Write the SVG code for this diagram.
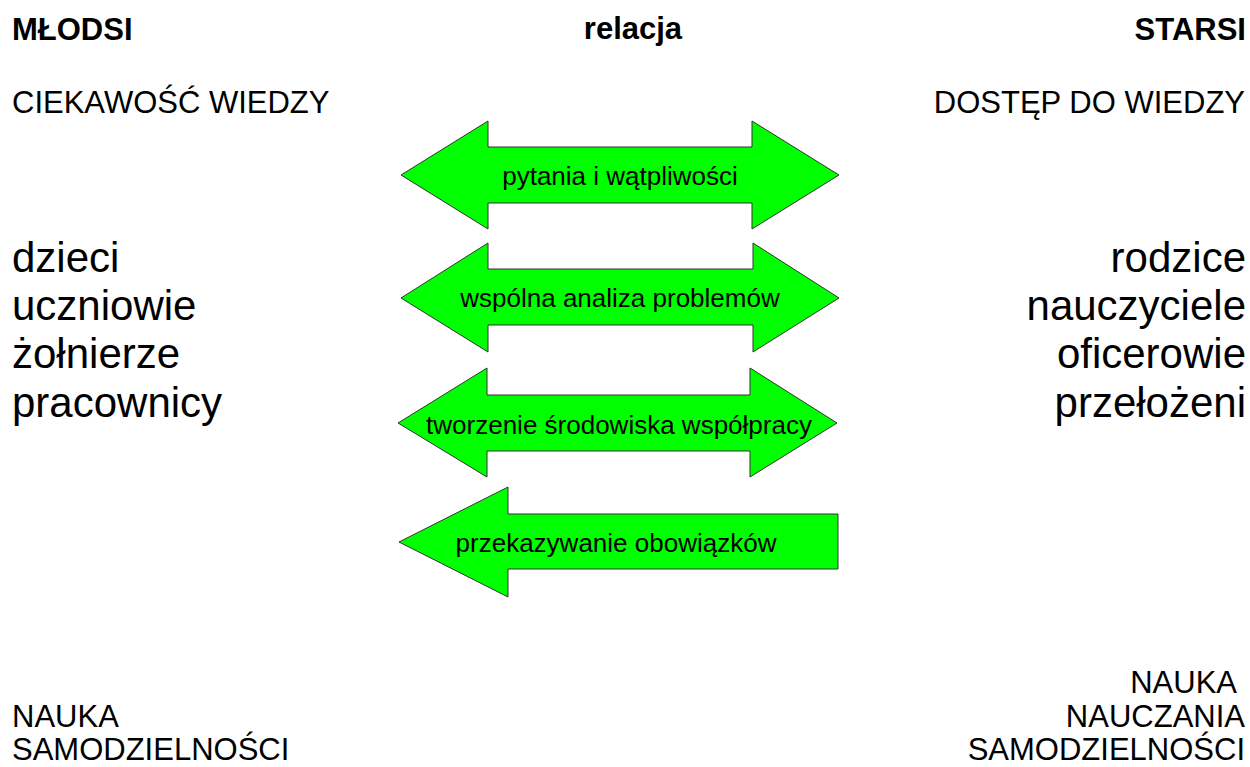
<svg xmlns="http://www.w3.org/2000/svg" width="1250" height="767" viewBox="0 0 1250 767">
  <style>
    text { font-family: "Liberation Sans", Arial, sans-serif; fill: #000; }
    .head { font-size: 31px; font-weight: bold; }
    .cap { font-size: 31px; }
    .big { font-size: 42px; }
    .lbl { font-size: 26px; text-anchor: middle; }
    .end { text-anchor: end; }
    .arrow { fill: #00ff00; stroke: #333333; stroke-width: 1; stroke-linejoin: miter; }
  </style>
  <rect width="1250" height="767" fill="#ffffff"/>

  <!-- column headings -->
  <g id="headings">
    <text class="head" x="12" y="40">MŁODSI</text>
    <text class="head" x="633" y="39" text-anchor="middle">relacja</text>
    <text class="head end" x="1246" y="40">STARSI</text>
  </g>

  <g id="left-column">
    <text class="cap" x="12" y="113">CIEKAWOŚĆ WIEDZY</text>
    <text class="big" x="12" y="272">dzieci</text>
    <text class="big" x="12" y="320">uczniowie</text>
    <text class="big" x="12" y="368">żołnierze</text>
    <text class="big" x="12" y="417">pracownicy</text>
    <text class="cap" x="12" y="727">NAUKA</text>
    <text class="cap" x="12" y="760">SAMODZIELNOŚCI</text>
  </g>

  <g id="right-column">
    <text class="cap end" x="1245" y="113">DOSTĘP DO WIEDZY</text>
    <text class="big end" x="1246" y="272">rodzice</text>
    <text class="big end" x="1246" y="320">nauczyciele</text>
    <text class="big end" x="1246" y="368">oficerowie</text>
    <text class="big end" x="1246" y="417">przełożeni</text>
    <text class="cap end" x="1237" y="693">NAUKA</text>
    <text class="cap end" x="1245" y="727">NAUCZANIA</text>
    <text class="cap end" x="1245" y="760">SAMODZIELNOŚCI</text>
  </g>

  <!-- relation arrows -->
  <g id="connectors">
    <g id="arrow-questions">
      <polygon class="arrow" points="401,175 488,121 488,147 752,147 752,121 839,175 752,229 752,203 488,203 488,229"/>
      <text class="lbl" x="620" y="185">pytania i wątpliwości</text>
    </g>
    <g id="arrow-analysis">
      <polygon class="arrow" points="401,298 488,243 488,269 753,269 753,243 839,298 753,352 753,325 488,325 488,352"/>
      <text class="lbl" x="620" y="307">wspólna analiza problemów</text>
    </g>
    <g id="arrow-cooperation">
      <polygon class="arrow" points="398,423 487,368 487,395 750,395 750,368 837,423 750,477 750,451 487,451 487,477"/>
      <text class="lbl" x="619" y="434">tworzenie środowiska współpracy</text>
    </g>
    <g id="arrow-duties">
      <polygon class="arrow" points="399,542 508,487 508,514 838,514 838,569 508,569 508,597"/>
      <text class="lbl" x="616" y="552">przekazywanie obowiązków</text>
    </g>
  </g>
</svg>
